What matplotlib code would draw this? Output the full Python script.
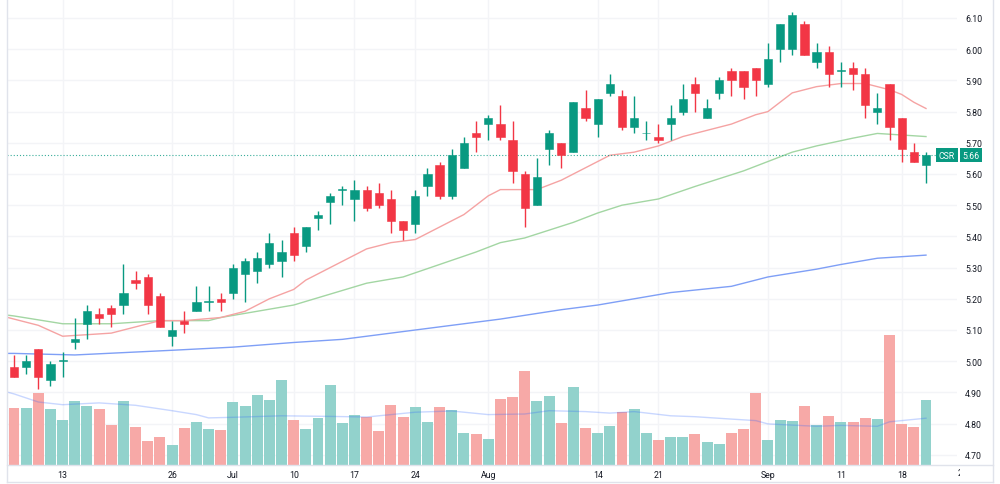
import numpy as np
import matplotlib.pyplot as plt
from matplotlib.lines import Line2D
from matplotlib.transforms import blended_transform_factory, Bbox, TransformedBbox

plt.rcParams['font.family'] = ['Roboto', 'DejaVu Sans']

# daily bars, 6 Jun -> 20 Sep
opens = [4.98, 4.98, 5.04, 4.94, 5.00, 5.06, 5.12, 5.15, 5.17, 5.18,
         5.26, 5.27, 5.21, 5.08, 5.13, 5.16, 5.19, 5.20, 5.22, 5.28,
         5.29, 5.31, 5.32, 5.41, 5.37, 5.46, 5.51, 5.55, 5.52, 5.55,
         5.54, 5.52, 5.45, 5.44, 5.56, 5.63, 5.53, 5.62, 5.73, 5.76,
         5.76, 5.71, 5.60, 5.50, 5.68, 5.70, 5.67, 5.81, 5.76, 5.86,
         5.85, 5.75, 5.73, 5.72, 5.76, 5.80, 5.89, 5.78, 5.86, 5.93,
         5.93, 5.94, 5.89, 6.00, 6.00, 6.08, 5.96, 5.99, 5.93, 5.94,
         5.92, 5.80, 5.89, 5.78, 5.67, 5.63]
highs = [5.02, 5.02, 5.04, 5.00, 5.03, 5.14, 5.18, 5.17, 5.18, 5.31,
         5.29, 5.28, 5.22, 5.13, 5.16, 5.24, 5.24, 5.22, 5.31, 5.33,
         5.35, 5.41, 5.39, 5.43, 5.43, 5.48, 5.54, 5.56, 5.58, 5.56,
         5.57, 5.55, 5.45, 5.55, 5.62, 5.64, 5.68, 5.72, 5.77, 5.79,
         5.82, 5.77, 5.61, 5.65, 5.74, 5.70, 5.83, 5.87, 5.84, 5.92,
         5.87, 5.85, 5.77, 5.76, 5.82, 5.89, 5.91, 5.84, 5.91, 5.94,
         5.93, 5.94, 6.02, 6.08, 6.12, 6.09, 6.02, 6.01, 5.96, 5.96,
         5.94, 5.86, 5.89, 5.78, 5.70, 5.67]
lows = [4.95, 4.96, 4.91, 4.92, 4.95, 5.04, 5.07, 5.12, 5.11, 5.15,
        5.23, 5.15, 5.11, 5.05, 5.09, 5.16, 5.16, 5.16, 5.20, 5.19,
        5.25, 5.30, 5.27, 5.32, 5.35, 5.42, 5.44, 5.50, 5.45, 5.48,
        5.49, 5.41, 5.39, 5.41, 5.53, 5.52, 5.52, 5.62, 5.67, 5.71,
        5.71, 5.57, 5.43, 5.50, 5.63, 5.62, 5.67, 5.77, 5.72, 5.85,
        5.74, 5.73, 5.71, 5.70, 5.71, 5.79, 5.80, 5.78, 5.84, 5.85,
        5.84, 5.85, 5.88, 5.96, 5.98, 5.98, 5.94, 5.88, 5.88, 5.87,
        5.78, 5.76, 5.71, 5.64, 5.64, 5.57]
closes = [4.95, 5.00, 4.95, 4.99, 5.00, 5.07, 5.16, 5.14, 5.15, 5.22,
          5.25, 5.18, 5.11, 5.10, 5.12, 5.19, 5.19, 5.19, 5.30, 5.32,
          5.33, 5.38, 5.35, 5.34, 5.43, 5.47, 5.53, 5.55, 5.55, 5.49,
          5.50, 5.45, 5.42, 5.53, 5.60, 5.53, 5.66, 5.70, 5.72, 5.78,
          5.72, 5.61, 5.49, 5.59, 5.73, 5.66, 5.83, 5.78, 5.84, 5.89,
          5.75, 5.78, 5.73, 5.71, 5.78, 5.84, 5.86, 5.81, 5.90, 5.90,
          5.88, 5.90, 5.97, 6.08, 6.11, 5.98, 5.99, 5.92, 5.93, 5.92,
          5.82, 5.81, 5.75, 5.68, 5.64, 5.66]
# volume, millions of shares
volume = [1.89, 1.89, 2.40, 1.87, 1.50, 2.14, 1.98, 1.87, 1.33, 2.14,
          1.26, 0.80, 0.92, 0.68, 1.23, 1.42, 1.21, 1.17, 2.11, 1.98,
          2.33, 2.18, 2.83, 1.50, 1.19, 1.57, 2.67, 1.41, 1.66, 1.60,
          1.14, 2.00, 1.60, 1.92, 1.43, 1.92, 1.82, 1.06, 1.03, 0.86,
          2.21, 2.26, 3.13, 2.12, 2.31, 1.39, 2.59, 1.24, 1.06, 1.29,
          1.78, 1.86, 1.08, 0.83, 0.94, 0.92, 1.03, 0.77, 0.69, 1.06,
          1.19, 2.41, 0.82, 1.49, 1.47, 1.96, 1.32, 1.62, 1.43, 1.44,
          1.58, 1.53, 4.34, 1.37, 1.26, 2.18]

# moving averages (bar index, value)
ma_fast_idx = [-1, 0, 2, 4, 8, 10, 12, 14, 17, 19, 21, 23, 24, 26, 28, 29, 31, 33,
               35, 37, 39, 40, 42, 43, 45, 47, 49, 51, 53, 55, 57, 59, 61, 62, 63,
               64, 66, 68, 70, 72, 73, 74, 75]
ma_fast = [5.145, 5.135, 5.115, 5.08, 5.09, 5.11, 5.13, 5.13, 5.14, 5.16, 5.20,
           5.23, 5.26, 5.30, 5.34, 5.36, 5.38, 5.39, 5.43, 5.47, 5.53, 5.55, 5.55,
           5.55, 5.58, 5.62, 5.66, 5.67, 5.69, 5.72, 5.74, 5.76, 5.79, 5.80, 5.83,
           5.86, 5.88, 5.89, 5.89, 5.87, 5.855, 5.83, 5.81]
ma_mid_idx = [-1, 0, 4, 8, 12, 16, 17, 20, 23, 26, 29, 32, 35, 38, 40, 42, 44, 46,
              48, 50, 53, 56, 60, 62, 64, 66, 69, 71, 73, 75]
ma_mid = [5.15, 5.145, 5.12, 5.12, 5.13, 5.13, 5.14, 5.16, 5.18, 5.215, 5.25, 5.27,
          5.31, 5.35, 5.38, 5.395, 5.42, 5.445, 5.475, 5.50, 5.52, 5.56, 5.61, 5.64,
          5.67, 5.69, 5.715, 5.73, 5.725, 5.72]
ma_slow_idx = [-1, 0, 5, 13, 18, 23, 27, 33, 40, 45, 48, 54, 59, 62, 66, 68, 71, 75]
ma_slow = [5.025, 5.025, 5.02, 5.035, 5.045, 5.06, 5.07, 5.10, 5.135, 5.165, 5.18,
           5.22, 5.24, 5.27, 5.295, 5.31, 5.33, 5.34]
vol_ma_idx = [-1, 0, 2, 4, 7, 10, 13, 15, 16, 18, 22, 26, 29, 33, 36, 39, 42, 44,
              47, 49, 51, 54, 56, 59, 61, 62, 64, 66, 68, 71, 72, 75]
vol_ma = [2.48, 2.37, 2.10, 2.01, 2.07, 1.99, 1.81, 1.68, 1.57, 1.59, 1.64, 1.62,
          1.60, 1.76, 1.80, 1.68, 1.70, 1.81, 1.78, 1.73, 1.78, 1.64, 1.61, 1.53,
          1.48, 1.37, 1.33, 1.29, 1.32, 1.29, 1.44, 1.56]

tick_pos = [4, 13, 18, 23, 28, 33, 39, 48, 53, 62, 68, 73]
tick_labels = ['13', '26', 'Jul', '10', '17', '24', 'Aug', '14', '21', 'Sep', '11', '18']
price_ticks = np.round(np.arange(4.70, 6.11, 0.10), 2)
last_price = 5.66
symbol = 'CSR'

UP, DOWN = '#089981', '#F23645'
VOL_UP, VOL_DOWN = '#92d2cc', '#f7a9a7'
GRID = '#f3f4f7'
TEXT = '#131722'

o, h, l, c = map(np.array, (opens, highs, lows, closes))
x = np.arange(len(o))
up = c >= o
col = np.where(up, UP, DOWN)

fig = plt.figure(figsize=(10, 4.85), dpi=100)
ax = fig.add_axes([7 / 1000, 19 / 485, 950 / 1000, 466 / 485])
axv = ax.twinx()

# volume pane (bottom)
axv.bar(x, volume, width=0.9, color=np.where(up, VOL_UP, VOL_DOWN), zorder=1)
axv.plot(vol_ma_idx, vol_ma, color='#2962ff', alpha=0.25, lw=1, zorder=2)
axv.set_ylim(0, 466 / 30)
axv.set_yticks([])
for s in axv.spines.values():
    s.set_visible(False)

# price pane
ax.set_zorder(axv.get_zorder() - 1)
ax.grid(True, color=GRID, lw=1)
ax.set_axisbelow(True)
ax.plot(ma_slow_idx, ma_slow, color='#7f9ff6', lw=1)
ax.plot(ma_mid_idx, ma_mid, color='#a3d6a3', lw=1)
ax.plot(ma_fast_idx, ma_fast, color='#f5a3a3', lw=1)

ax.vlines(x, l, h, colors=col, lw=1, zorder=3)
body_lo = np.minimum(o, c)
body_h = np.maximum(np.abs(c - o), 0.003)
ax.bar(x, body_h, bottom=body_lo, width=0.68, color=col, edgecolor=col, lw=0.4, zorder=4)

ax.axhline(last_price, color=UP, lw=0.8, alpha=0.8, ls=(0, (1, 1.8)), zorder=2)

ax.set_xlim(-0.576, 77.55)
ax.set_ylim(6.10 - 447 / 312, 6.10 + 19 / 312)
ax.set_xticks(tick_pos)
ax.set_xticklabels(tick_labels)
ax.set_yticks(price_ticks)
ax.set_yticklabels([f'{p:.2f}' for p in price_ticks])
ax.yaxis.tick_right()
ax.tick_params(axis='y', length=0, pad=5.8, labelsize=6.3, colors=TEXT)
ax.tick_params(axis='x', length=0, pad=3.5, labelsize=6.3, colors=TEXT)
for s in ax.spines.values():
    s.set_visible(False)

# next date label, cut by the price scale
t = ax.text(78, -0.006, '25', transform=blended_transform_factory(ax.transData, ax.transAxes),
            ha='center', va='top', fontsize=6.3, color=TEXT)
t.set_clip_box(TransformedBbox(Bbox([[0, 0], [0.96, 1]]), fig.transFigure))
t.set_clip_on(True)

# last price labels
tr = blended_transform_factory(ax.transAxes, ax.transData)
ax.text(0.998, last_price, symbol, transform=tr, ha='right', va='center', fontsize=6.3,
        color='white', clip_on=False, zorder=6,
        bbox=dict(boxstyle='square,pad=0.3', fc=UP, ec='none'))
ax.text(1.006, last_price, f'{last_price:.2f}', transform=tr, ha='left', va='center',
        fontsize=6.3, color='white', clip_on=False, zorder=6,
        bbox=dict(boxstyle='square,pad=0.3', fc=UP, ec='none'))

# outer frame and time-scale separator
BORDER = '#e0e3eb'
fig.add_artist(Line2D([7 / 1000, 7 / 1000], [2 / 485, 1], color=BORDER, lw=1))
fig.add_artist(Line2D([993 / 1000, 993 / 1000], [2 / 485, 1], color=BORDER, lw=1))
fig.add_artist(Line2D([7 / 1000, 993 / 1000], [2 / 485, 2 / 485], color=BORDER, lw=1))
fig.add_artist(Line2D([7 / 1000, 993 / 1000], [19 / 485, 19 / 485], color=BORDER, lw=1))

fig.savefig('out.png', dpi=100, facecolor='white')
